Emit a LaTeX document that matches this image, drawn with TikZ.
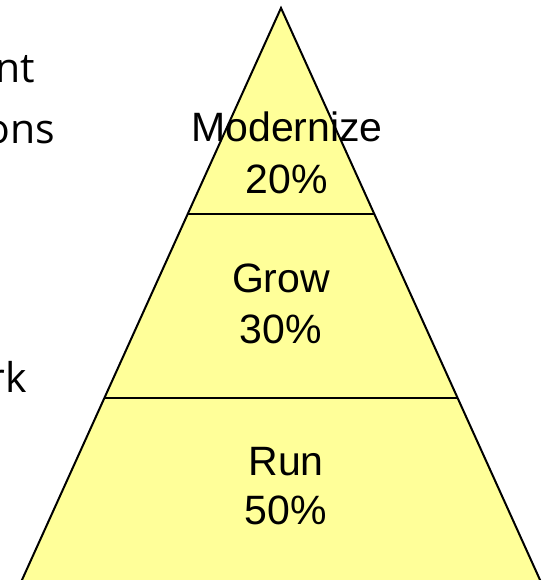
\documentclass[tikz,border=0pt]{standalone}
\usepackage{fontspec}
\setmainfont{Liberation Sans}
\newfontfamily\leftfont{Open Sans}
\definecolor{pyr}{RGB}{255,255,153}
\begin{document}
\begin{tikzpicture}[x=1pt,y=-1pt,
  tier/.style={font=\fontsize{41}{49}\selectfont, anchor=base, inner sep=0pt},
  side/.style={font=\leftfont\fontsize{41}{48}\selectfont, anchor=base east, inner sep=0pt},
  edge/.style={line width=2pt, black}]
\useasboundingbox (0,0) rectangle (547,580);
\clip (0,0) rectangle (547,580);
\coordinate (apex) at (281,8);
\coordinate (bl) at (12.9,600);
\coordinate (br) at (549.1,600);
\coordinate (l1) at (188,213.5);
\coordinate (r1) at (374,213.5);
\coordinate (l2) at (104.4,398);
\coordinate (r2) at (457.6,398);
\fill[pyr] (apex) -- (bl) -- (br) -- cycle;
\draw[edge] (bl) -- (apex) -- (br);
\draw[edge] (l1) -- (r1);
\draw[edge] (l2) -- (r2);
\node[tier] (mod) at (287,142) {Modernize};
\node[tier] (modp) at (287,193) {20\%};
\node[tier] (grow) at (281,292) {Grow};
\node[tier] (growp) at (281,343) {30\%};
\node[tier] (run) at (286,475) {Run};
\node[tier] (runp) at (286,524) {50\%};
\node[side] (t1) at (35,83) {nt};
\node[side] (t2) at (55,143) {ons};
\node[side] (t3) at (27,392) {rk};
\end{tikzpicture}
\end{document}
